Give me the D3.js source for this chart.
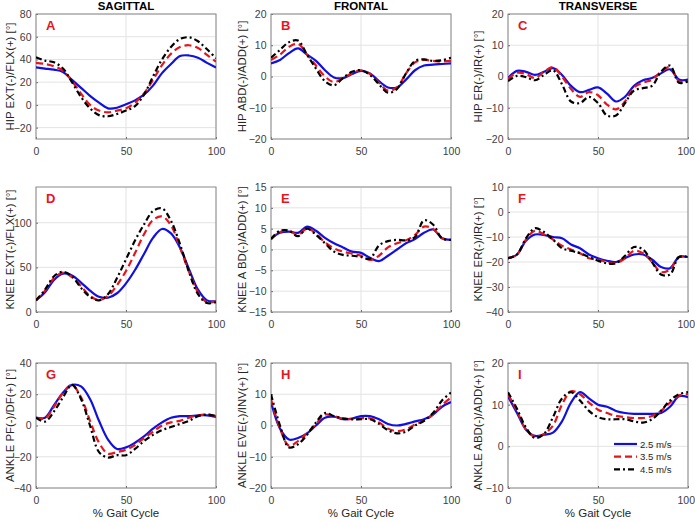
<!DOCTYPE html>
<html><head><meta charset="utf-8">
<script src="https://cdn.jsdelivr.net/npm/d3@7"></script>
<style>body{margin:0;background:#fff}svg{display:block}text{font-family:"Liberation Sans",Arial,sans-serif}</style>
</head><body><div id="chart"></div>
<script>
// ---- data ----
const gaitPct = [0,5,10,15,20,25,30,35,40,45,50,55,60,65,70,75,80,85,90,95,100];
const speeds = ["2.5 m/s","3.5 m/s","4.5 m/s"];
const planeTitles = ["SAGITTAL","FRONTAL","TRANSVERSE"];
const panelLetters = ["A","B","C","D","E","F","G","H","I"];
const yLabels = ["HIP EXT(-)/FLX(+) [°]","HIP ABD(-)/ADD(+) [°]","HIP ER(-)/IR(+) [°]",
  "KNEE EXT(-)/FLX(+) [°]","KNEE A BD(-)/ADD(+) [°]","KNEE ER(-)/IR(+) [°]",
  "ANKLE PF(-)/DF(+) [°]","ANKLE EVE(-)/INV(+) [°]","ANKLE ABD(-)/ADD(+) [°]"];
const yDomains = [[-30,80],[-20,20],[-20,20],[0,140],[-15,15],[-40,10],[-40,40],[-20,20],[-10,20]];
const yTicks = [[-20,0,20,40,60,80],[-20,-10,0,10,20],[-20,-10,0,10,20],[0,50,100],[-15,-10,-5,0,5,10,15],[-40,-30,-20,-10,0,10],[-40,-20,0,20,40],[-20,-10,0,10,20],[-10,0,10,20]];
const xTicks = [0,50,100];

const hipSag25 = [33,32,31,29,22,15,8,2,-3,-2.5,0.5,4,9,17,28,36,43,43.5,41.5,37,33];
const hipSag35 = [37,36,34,30,21,10,0,-5,-6.5,-5,-3,2,10,22,35,45,51,52.5,50,44,38];
const hipSag45 = [42,39,37.5,32,20,7,-3,-9,-10,-8,-5,-1,9,25,40,51,58,59.5,56,49,41];

const hipFro25 = [4.2,5.3,7.5,9,7,5,2,-0.3,-0.5,0.8,1.8,1,-1.5,-3.5,-3.5,-1,2,3.5,3.8,4,4.2];
const hipFro35 = [5.3,7,9.5,10.5,7,3.5,0,-1.8,-0.5,1,2,0.8,-2,-4.5,-3.5,1,4.5,5.3,5,4.8,5];
const hipFro45 = [6,8.5,11,11.5,7,2.5,-1.5,-2.8,-0.5,1.5,2,0.5,-2.5,-5.2,-4,1,5,5.5,5,5.2,6];

const hipTra25 = [-0.5,1.8,1.5,0.5,1.5,2.7,0.5,-3,-5,-4.3,-3.5,-5.5,-8,-6.5,-3,-1.2,-0.5,1,2.3,-1,-1];
const hipTra35 = [-0.8,1.2,0.8,-0.5,1.5,3,0,-4,-6.5,-5,-6,-9,-10.5,-8,-3.5,-2,-1,1.5,3,-1.5,-1.5];
const hipTra45 = [-1.5,0.2,-0.2,-1.2,0.5,2,-2.5,-8,-8.5,-6.5,-8.5,-12.5,-12.5,-8.5,-4.5,-3.7,-3,1.5,3.5,-2,-1.5];

const kneeSag25 = [13,22,36,43,41,33,24,17,16,21,32,47,65,83,93,88,72,48,25,13,12];
const kneeSag35 = [13,24,38,44,39,29,18,13.5,18,30,46,66,87,103,107,97,72,45,22,11,12];
const kneeSag45 = [13,25,40,45,40,27,17,13,20,38,59,80,98,113,116,102,76,45,20,10,11];

const kneeFro25 = [2.5,4,4.3,4,5.5,4.5,2.8,1.5,0.5,-0.5,-0.8,-2,-2.8,-1.5,0,1.5,2.5,4,4.8,2.7,2.3];
const kneeFro35 = [2.5,4.2,4.5,3.5,5,3.8,1.7,0.3,-0.5,-1,-1.5,-2.5,-1.5,0.5,1.5,2.2,3.5,5.5,5,2.7,2.3];
const kneeFro45 = [2.5,4.5,4.5,3.2,5,3.5,1.5,-0.5,-1.3,-1.5,-1.8,-2.2,1,2,2.3,2.2,3,7,6,2.7,2.3];

const kneeTra25 = [-18.5,-17,-11.5,-9,-9.2,-10,-10.5,-13,-14.5,-17,-18.5,-19.5,-20,-18.5,-17,-17,-19,-22,-22.5,-18,-18];
const kneeTra35 = [-18.5,-17,-11,-7.5,-9,-11,-13.5,-15,-16.5,-18.5,-19,-20,-20.5,-18.5,-15.5,-16.5,-20,-24,-23,-18,-18];
const kneeTra45 = [-18.5,-17,-10.5,-6.5,-8,-11,-14.5,-15.5,-16.5,-18,-19.5,-20.5,-20.5,-17.5,-14,-15,-20,-25,-25,-18,-18];

const ankSag25 = [5,5,13,21,26,25,17,3,-9,-15,-14,-11,-7,-2,2,5,6,6,6.5,6.5,5.5];
const ankSag35 = [5,4.5,12,21,26,18,3,-11,-18,-17,-15.5,-12.5,-8,-4,0,2,3,5,6.5,7,6];
const ankSag45 = [5,2.5,9,18,26,17,0,-17,-20.5,-19,-19,-15,-10,-6,-3,-1,1,3,6,7,6];

const ankFro25 = [7.5,-1,-4.5,-4,-2.5,0,2.5,2.8,2,2.2,3,3,2,0.5,0,0.5,1.3,2,3.5,6,7.5];
const ankFro35 = [8.5,-1,-6.5,-5,-2.5,0.5,3.5,3,2.2,2,2.3,2.3,1,-1,-1.8,-1.2,0.3,1.5,3.5,6.5,9];
const ankFro45 = [10,0,-7,-6,-3,1,4,3,2.3,2,2,2,0.5,-1.5,-2.5,-2,0,1.5,4,8,10.5];

const ankTra25 = [12,8,4,2.5,2.8,3.3,6,10.5,13,11.5,10,9.5,8.5,8,7.8,7.8,7.8,8,9.5,12,11.8];
const ankTra35 = [12.5,8.5,4,2.3,3,5,10,13.2,12.5,10.5,8.8,8,7.3,7,6.8,6.8,7.3,8.5,10.5,12.2,12.5];
const ankTra45 = [13,9,4.5,2,3,7,11.5,13,11,8.5,7,6.5,6.5,6.5,6,5.7,6.5,8.5,11,12.5,13];

const panelSeries = [
  [hipSag25,hipSag35,hipSag45],[hipFro25,hipFro35,hipFro45],[hipTra25,hipTra35,hipTra45],
  [kneeSag25,kneeSag35,kneeSag45],[kneeFro25,kneeFro35,kneeFro45],[kneeTra25,kneeTra35,kneeTra45],
  [ankSag25,ankSag35,ankSag45],[ankFro25,ankFro35,ankFro45],[ankTra25,ankTra35,ankTra45]];

// ---- layout ----
const W = 695, H = 521;
const colLeft = [36, 271, 508], plotW = 180;
const rowTop = [14, 187, 363], plotH = 125;
const styles = [
  {color:"#1010e0", dash:null},
  {color:"#e8141c", dash:"7,4"},
  {color:"#000000", dash:"6,3,2,3"}];

const svg = d3.select("#chart").append("svg").attr("width",W).attr("height",H);

planeTitles.forEach((t,i)=>{
  svg.append("text").attr("x",colLeft[i]+plotW/2).attr("y",9.5)
    .attr("text-anchor","middle").attr("font-size",11.5).attr("font-weight","bold").attr("fill","#000").text(t);
});

panelSeries.forEach((series,p)=>{
  const r = Math.floor(p/3), c = p%3;
  const g = svg.append("g").attr("transform",`translate(${colLeft[c]},${rowTop[r]})`);
  const x = d3.scaleLinear().domain([0,100]).range([0,plotW]);
  const y = d3.scaleLinear().domain(yDomains[p]).range([plotH,0]);
  // grid
  g.append("g").selectAll("line").data(yTicks[p]).join("line")
    .attr("x1",0).attr("x2",plotW).attr("y1",d=>y(d)).attr("y2",d=>y(d))
    .attr("stroke","#e3e3e3").attr("stroke-width",1);
  g.append("g").selectAll("line").data(xTicks).join("line")
    .attr("y1",0).attr("y2",plotH).attr("x1",d=>x(d)).attr("x2",d=>x(d))
    .attr("stroke","#e3e3e3").attr("stroke-width",1);
  // axes
  const ya = g.append("g").call(d3.axisLeft(y).tickValues(yTicks[p]).tickSize(-2).tickPadding(4.5));
  const xa = g.append("g").attr("transform",`translate(0,${plotH})`).call(d3.axisBottom(x).tickValues(xTicks).tickSize(-2).tickPadding(8.5));
  [ya,xa].forEach(a=>{
    a.select(".domain").remove();
    a.selectAll("line").attr("stroke","#666");
    a.selectAll("text").attr("font-size",10.5).attr("fill","#404040").attr("font-family","Liberation Sans, Arial, sans-serif");
  });
  if (c===2) {
    // keep the last tick label inside the page edge
    xa.selectAll(".tick").filter(d=>d===100).select("text").attr("text-anchor","end").attr("x",6.5);
  }
  g.append("rect").attr("width",plotW).attr("height",plotH).attr("fill","none").attr("stroke","#8a8a8a").attr("stroke-width",1);
  // lines
  const line = d3.line().x((d,i)=>x(gaitPct[i])).y(d=>y(d)).curve(d3.curveCatmullRom.alpha(0.5));
  const clipId = "clip"+p;
  g.append("clipPath").attr("id",clipId).append("rect").attr("width",plotW).attr("height",plotH);
  const lg = g.append("g").attr("clip-path",`url(#${clipId})`);
  series.forEach((s,k)=>{
    lg.append("path").datum(s).attr("d",line).attr("fill","none")
      .attr("stroke",styles[k].color).attr("stroke-width",2.2)
      .attr("stroke-dasharray",styles[k].dash);
  });
  // panel letter
  g.append("text").attr("x",10).attr("y",16).attr("fill","#e8141c").attr("font-weight","bold").attr("font-size",13).text(panelLetters[p]);
  // y label
  const lx = [-22.5,-25,-26][c];
  g.append("text").attr("transform",`translate(${lx},${plotH/2}) rotate(-90)`).attr("text-anchor","middle")
    .attr("font-size",11.4).attr("fill","#262626").text(yLabels[p]);
  if (r===2) {
    g.append("text").attr("x",plotW/2).attr("y",plotH+29).attr("text-anchor","middle").attr("font-size",11.5).attr("fill","#262626").text("% Gait Cycle");
  }
  if (p===8) {
    const leg = g.append("g");
    speeds.forEach((sp,k)=>{
      const yy = 81 + k*12.7;
      leg.append("line").attr("x1",106).attr("x2",129).attr("y1",yy).attr("y2",yy)
        .attr("stroke",styles[k].color).attr("stroke-width",2.2).attr("stroke-dasharray",styles[k].dash);
      leg.append("text").attr("x",132).attr("y",yy+3.5).attr("font-size",9.6).attr("fill","#262626").text(sp);
    });
  }
});
</script></body></html>
